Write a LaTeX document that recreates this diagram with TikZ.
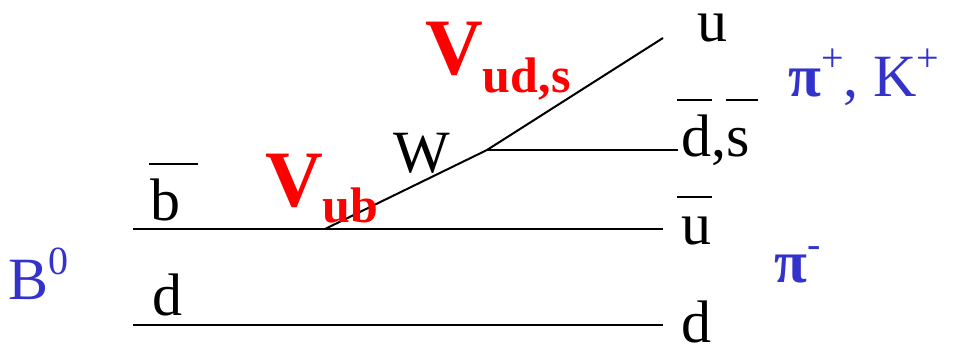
\documentclass[tikz,border=0pt]{standalone}
\usepackage{fontspec}
\setmainfont{Liberation Serif}
\definecolor{hadblue}{RGB}{51,51,204}
\newcommand{\supr}[1]{\raisebox{0.42em}{\fontsize{40}{40}\selectfont #1}}
\newcommand{\bpi}{{\bfseries π}}
\begin{document}
\begin{tikzpicture}[x=1pt,y=-1pt,
  quark/.style={line width=2pt},
  bar/.style={line width=1.8pt},
  lbl/.style={inner sep=0pt,anchor=base west,font=\fontsize{60}{60}\selectfont},
  had/.style={lbl,text=hadblue},
  ckm/.style={inner sep=0pt,anchor=base west,text=red,font=\fontsize{80}{80}\selectfont\bfseries}]
\useasboundingbox (0,0) rectangle (955,352);
% vertices
\coordinate (bl) at (133,229);
\coordinate (br) at (663,229);
\coordinate (dl) at (133,325);
\coordinate (dr) at (663,325);
\coordinate (wv) at (325,229);
\coordinate (wk) at (487,150);
\coordinate (ue) at (663,38);
\coordinate (de) at (678,150);
% lines
\draw[quark] (bl) -- (br);
\draw[quark] (dl) -- (dr);
\draw[quark] (wv) -- (wk) -- (ue);
\draw[quark] (wk) -- (de);
% labels
\node[lbl] (tb) at (150,221) {b};
\draw[bar] (149,164) -- (198,164);
\node[lbl] (td) at (152,316) {d};
\node[lbl] (tw) at (393,173) {W};
\node[lbl] (tu) at (697,42) {u};
\node[lbl] (tds) at (681,157) {d,s};
\draw[bar] (677,100) -- (712,100);
\draw[bar] (726,100) -- (758,100);
\node[lbl] (tub) at (681,245) {u};
\draw[bar] (677,197) -- (712,197);
\node[lbl] (tdr) at (681,342) {d};
% CKM
\node[ckm] (vub) at (265,207) {V\raisebox{-0.2em}{\fontsize{50}{50}\selectfont ub}};
\node[ckm] (vud) at (425,75) {V\raisebox{-0.22em}{\fontsize{50}{50}\selectfont ud,s}};
% hadrons
\node[had] (b0) at (8,300) {B\supr{0}};
\node[had] (pk) at (788,97) {\bpi\supr{+}, K\supr{+}};
\node[had] (pm) at (774,283) {\bpi\supr{-}};
\end{tikzpicture}
\end{document}
